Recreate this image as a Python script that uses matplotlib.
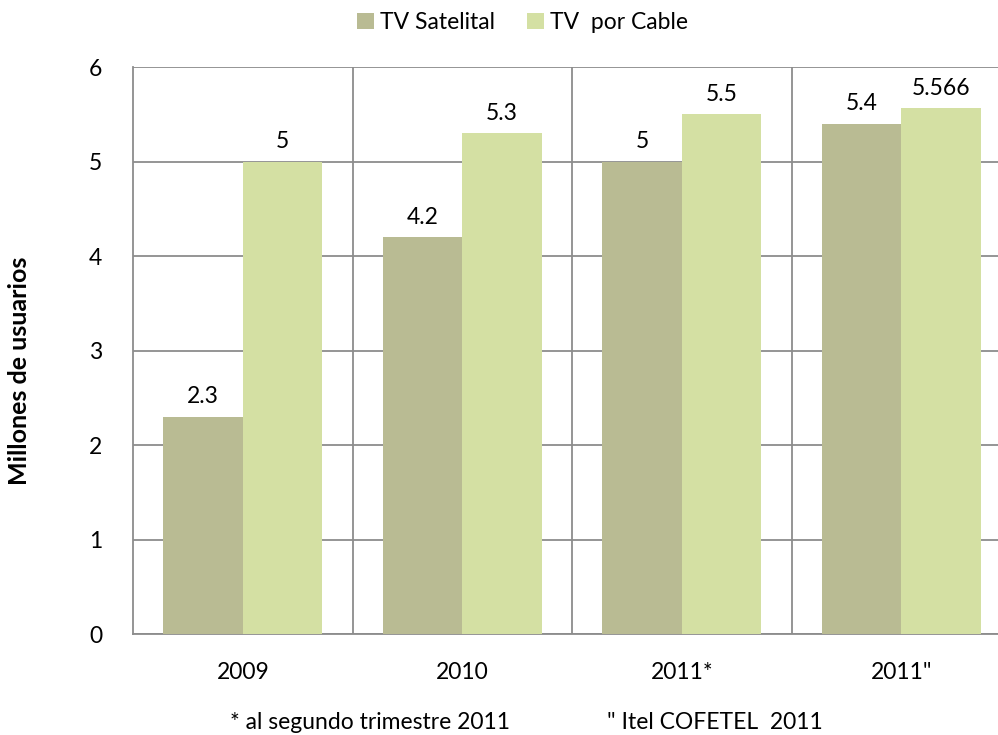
import numpy as np
import matplotlib.pyplot as plt

plt.rcParams['font.family'] = ['Lato', 'DejaVu Sans']

# Datos: usuarios de TV de paga (millones)
periodos = ['2009', '2010', '2011*', '2011"']
satelital = [2.3, 4.2, 5.0, 5.4]
cable = [5.0, 5.3, 5.5, 5.566]
etiq_sat = ['2.3', '4.2', '5', '5.4']
etiq_cab = ['5', '5.3', '5.5', '5.566']

col_sat = '#B9BB93'
col_cab = '#D4E0A3'
gris = '#8C8C8C'
fs = 16.5

fig = plt.figure(figsize=(9.98, 7.35), dpi=100)
ax = fig.add_axes([0.1333, 0.1374, 0.8798, 0.7714])

x = np.arange(len(periodos))
w = 0.363
b1 = ax.bar(x - w / 2, satelital, w, color=col_sat, label='TV Satelital', zorder=3)
b2 = ax.bar(x + w / 2, cable, w, color=col_cab, label='TV  por Cable', zorder=3)

for barras, textos in [(b1, etiq_sat), (b2, etiq_cab)]:
    for b, t in zip(barras, textos):
        ax.text(b.get_x() + b.get_width() / 2, b.get_height() + 0.1, t,
                ha='center', va='bottom', fontsize=fs)

ax.set_xlim(-0.5, 3.5)
ax.set_ylim(0, 6)
ax.set_yticks(range(0, 7))
ax.set_xticks(x)
ax.set_xticklabels(periodos)
ax.tick_params(axis='both', length=0, labelsize=fs)
ax.tick_params(axis='x', pad=20)
ax.tick_params(axis='y', pad=22)

ax.yaxis.grid(True, color=gris, linewidth=1.3, zorder=0)
for xv in [0.5, 1.5, 2.5]:
    ax.axvline(xv, color=gris, linewidth=1.3, zorder=0)

for s in ['top', 'right']:
    ax.spines[s].set_visible(False)
ax.spines['left'].set_color(gris)
ax.spines['left'].set_linewidth(1.3)
ax.spines['bottom'].set_color(gris)
ax.spines['bottom'].set_linewidth(1.3)

ax.set_ylabel('Millones de usuarios', fontsize=18, fontweight='bold')
ax.yaxis.set_label_coords(-0.116, 0.465)

fig.legend(handles=[b1, b2], loc='center', bbox_to_anchor=(0.524, 0.97), ncol=2,
           frameon=False, fontsize=fs, handlelength=0.7, handleheight=0.7,
           handletextpad=0.3, columnspacing=1.4)

fig.text(0.371, 0.008, '* al segundo trimestre 2011', ha='center', fontsize=fs)
fig.text(0.608, 0.008, '" Itel COFETEL  2011', ha='left', fontsize=fs)

fig.savefig('out.png', dpi=100)
